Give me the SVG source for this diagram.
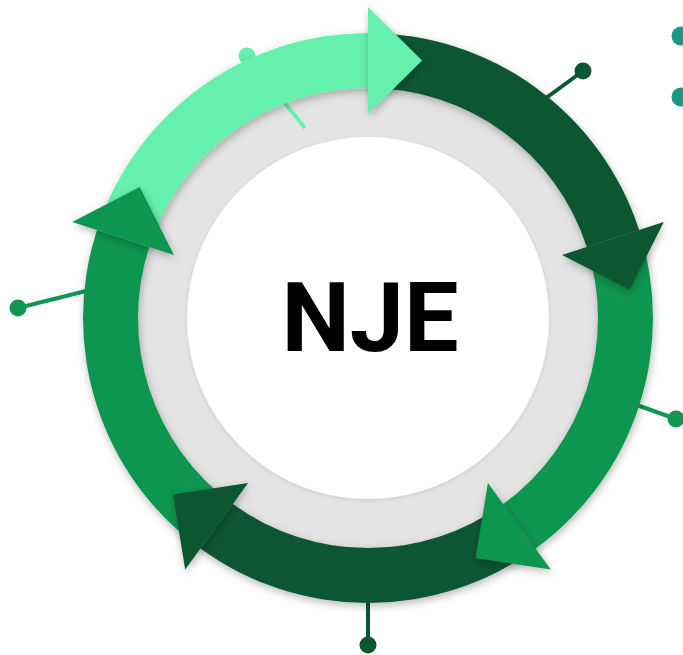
<svg xmlns="http://www.w3.org/2000/svg" width="683" height="655" viewBox="0 0 683 655">
  <defs>
    <filter id="shadow" x="-20%" y="-20%" width="140%" height="140%">
      <feDropShadow dx="1" dy="3" stdDeviation="4" flood-color="#000" flood-opacity="0.28"/>
    </filter>
    <filter id="soft" x="-10%" y="-10%" width="120%" height="120%">
      <feDropShadow dx="0" dy="1" stdDeviation="2" flood-color="#000" flood-opacity="0.12"/>
    </filter>
    <style>
      .light { fill: #66F0AE; }
      .dark { fill: #0A5733; }
      .mid { fill: #109650; }
      .pin { stroke-width: 4; fill: none; }
      .label { font-family: Roboto, "Liberation Sans", Arial, sans-serif; font-weight: bold; font-size: 97px; fill: #000; }
    </style>
  </defs>
  <rect width="683" height="655" fill="#fff"/>

  <!-- decorative dots, top right -->
  <g id="legend-dots" fill="#1A9A86">
    <circle cx="681" cy="36" r="9.5"/>
    <circle cx="681" cy="97" r="9.5"/>
  </g>

  <!-- pins reaching out from the ring (drawn beneath the ring) -->
  <g id="pins">
    <line class="pin" x1="583" y1="71" x2="520" y2="117" stroke="#0A5733"/>
    <circle cx="583" cy="71" r="8.5" fill="#0A5733"/>
    <line class="pin" x1="18" y1="308" x2="100" y2="287.5" stroke="#109650"/>
    <circle cx="18" cy="308" r="8.5" fill="#109650"/>
    <line class="pin" x1="676" y1="419" x2="620" y2="399" stroke="#109650"/>
    <circle cx="676" cy="419" r="8.5" fill="#109650"/>
    <line class="pin" x1="368" y1="585" x2="368" y2="645" stroke="#0A5733"/>
    <circle cx="368" cy="645" r="8.5" fill="#0A5733"/>
  </g>

  <!-- hub: grey ring and white disc -->
  <g id="hub">
    <circle cx="368" cy="318" r="232" fill="#E4E4E4"/>
    <circle cx="368" cy="318" r="181" fill="#fff" filter="url(#soft)"/>
    <text class="label" x="370" y="351" text-anchor="middle">NJE</text>
  </g>

  <!-- light pin crosses the grey ring, under the band -->
  <g id="pin-top">
    <line class="pin" x1="247" y1="56" x2="305" y2="128" stroke="#66F0AE"/>
    <circle cx="247" cy="56" r="8.5" fill="#66F0AE"/>
  </g>

  <!-- ring segments, 72 degrees each, clockwise -->
  <g id="bands" filter="url(#shadow)">
    <path id="band-1" class="light" d="M96.95 229.93 A285 285 0 0 1 368 33 L368 88 A230 230 0 0 0 149.26 246.93 Z"/>
    <path id="band-2" class="dark" d="M368 33 A285 285 0 0 1 639.05 229.93 L586.74 246.93 A230 230 0 0 0 368 88 Z"/>
    <path id="band-3" class="mid" d="M639.05 229.93 A285 285 0 0 1 535.52 548.57 L503.19 504.07 A230 230 0 0 0 586.74 246.93 Z"/>
    <path id="band-4" class="dark" d="M535.52 548.57 A285 285 0 0 1 200.48 548.57 L232.81 504.07 A230 230 0 0 0 503.19 504.07 Z"/>
    <path id="band-5" class="mid" d="M200.48 548.57 A285 285 0 0 1 96.95 229.93 L149.26 246.93 A230 230 0 0 0 232.81 504.07 Z"/>
  </g>

  <!-- arrowheads at the end of each segment -->
  <g id="heads" filter="url(#shadow)">
    <polygon id="head-1" class="light" points="368,7 368,114 422,60.5"/>
    <polygon id="head-2" class="dark" points="663.78,221.89 562.02,254.96 629.59,289.79"/>
    <polygon id="head-3" class="mid" points="550.8,569.61 487.91,483.04 475.67,558.06"/>
    <polygon id="head-4" class="dark" points="185.2,569.61 248.09,483.04 172.95,494.58"/>
    <polygon id="head-5" class="mid" points="72.22,221.89 173.98,254.96 139.79,187.07"/>
  </g>
</svg>
